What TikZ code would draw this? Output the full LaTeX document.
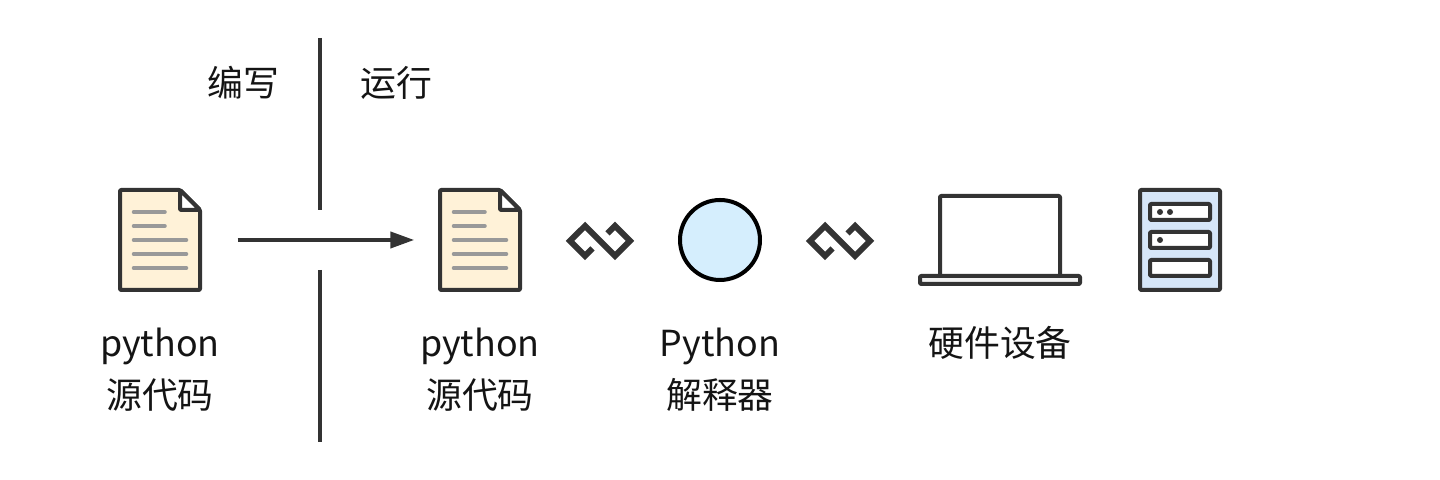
\documentclass[tikz,border=0pt]{standalone}
\usepackage{fontspec}
\setmainfont{Noto Sans CJK SC}
\usetikzlibrary{arrows.meta}

\definecolor{ink}{HTML}{333333}
\definecolor{paper}{HTML}{FFF2D8}
\definecolor{textline}{HTML}{999999}
\definecolor{interp}{HTML}{D5EEFD}
\definecolor{rack}{HTML}{D6E6F8}
\definecolor{base}{HTML}{F2F2F2}

\tikzset{
    icon/.style = {draw=ink, line width=0.04cm, rounded corners=0.3pt, line join=round},
    label/.style = {align=center, inner sep=0pt, font=\fontsize{10.2}{14.8}\selectfont, text=black!92},
    slot/.style = {icon, fill=white, minimum width=0.6cm, minimum height=0.16cm, inner sep=0pt},
    led/.style = {circle, fill=ink, inner sep=0pt, minimum size=0.06cm},
    rule/.style = {draw=ink, line width=0.04cm},
    link/.style = {draw=ink, line width=0.06cm, miter limit=4},
    docicon/.pic = {
        \draw[icon, fill=paper] (-0.4, 0.5) -- (0.2, 0.5) -- (0.4, 0.3) -- (0.4, -0.5) -- (-0.4, -0.5) -- cycle;
        \draw[icon, fill=white] (0.2, 0.5) -- (0.2, 0.3) -- (0.4, 0.3) -- cycle;
        \draw[textline, line width=0.035cm, line cap=round] (-0.265, 0.28) -- (0.05, 0.28);
        \draw[textline, line width=0.035cm, line cap=round] (-0.265, 0.14) -- (0.05, 0.14);
        \draw[textline, line width=0.035cm, line cap=round] (-0.265, 0) -- (0.265, 0);
        \draw[textline, line width=0.035cm, line cap=round] (-0.265, -0.14) -- (0.265, -0.14);
        \draw[textline, line width=0.035cm, line cap=round] (-0.265, -0.28) -- (0.265, -0.28);
    },
    linkicon/.pic = {
        \draw[link] (-0.075, -0.075) -- (-0.15, -0.15) -- (-0.3, 0) -- (-0.15, 0.15)
            -- (0.15, -0.15) -- (0.3, 0) -- (0.15, 0.15) -- (0.075, 0.075);
    }
}

\begin{document}
\begin{tikzpicture}
    \useasboundingbox (0, 0) rectangle (14.4, 4.8);

    % divider
    \coordinate (top0) at (3.2, 4.42);
    \coordinate (top1) at (3.2, 2.7);
    \coordinate (bot0) at (3.2, 2.1);
    \coordinate (bot1) at (3.2, 0.38);
    \draw[rule] (top0) -- (top1);
    \draw[rule] (bot0) -- (bot1);

    \node[label] (write) at (2.435, 3.97) {编写};
    \node[label] (run) at (3.96, 3.97) {运行};

    % files
    \node[inner sep=0pt, minimum width=0.8cm, minimum height=1cm] (src0) at (1.6, 2.4) {};
    \node[inner sep=0pt, minimum width=0.8cm, minimum height=1cm] (src1) at (4.8, 2.4) {};
    \pic at (src0) {docicon};
    \pic at (src1) {docicon};
    \draw[rule, -{Triangle[length=0.24cm, width=0.16cm]}, shorten <=0.37cm, shorten >=0.25cm] (src0) -- (src1);

    \node[label] (src0text) at (1.6, 1.105) {python\\源代码};
    \node[label] (src1text) at (4.8, 1.105) {python\\源代码};

    % interpreter
    \pic at (6, 2.39) {linkicon};
    \node[circle, draw=black, line width=0.04cm, fill=interp, minimum size=0.8cm, inner sep=0pt] (interp) at (7.2, 2.4) {};
    \node[label] (interptext) at (7.2, 1.105) {Python\\解释器};
    \pic at (8.4, 2.39) {linkicon};

    % laptop
    \draw[icon] (9.4, 2.05) -- (9.4, 2.84) -- (10.6, 2.84) -- (10.6, 2.05);
    \draw[icon, fill=base] (9.2, 1.96) rectangle (10.8, 2.04);
    \node[label] (hwtext) at (10, 1.37) {硬件设备};

    % server
    \draw[icon, fill=rack] (11.4, 1.9) rectangle (12.2, 2.9);
    \node[slot] (slot0) at (11.8, 2.68) {};
    \node[slot] (slot1) at (11.8, 2.4) {};
    \node[slot] (slot2) at (11.8, 2.12) {};
    \node[led] (led0) at (11.6, 2.68) {};
    \node[led] (led1) at (11.7, 2.68) {};
    \node[led] (led2) at (11.6, 2.4) {};
\end{tikzpicture}
\end{document}
